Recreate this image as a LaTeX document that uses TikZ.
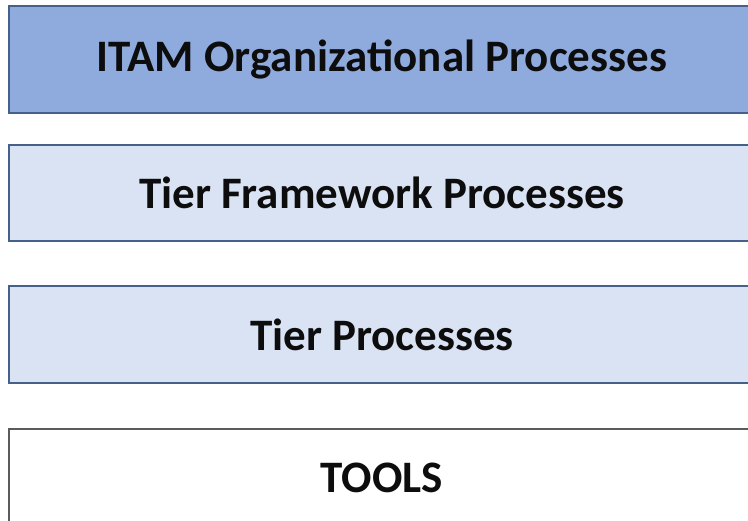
\documentclass[tikz,border=0pt]{standalone}
\usepackage{fontspec}
\setmainfont{Carlito}
\begin{document}
\begin{tikzpicture}[x=1pt,y=1pt]

% Colors
\definecolor{itamblue}{RGB}{143,170,220}
\definecolor{tierblue}{RGB}{218,227,243}
\definecolor{edgeblue}{RGB}{70,96,140}
\definecolor{edgegray}{RGB}{90,90,95}

% Parameters
\def\boxWidth{746}
\def\xCenter{382}

\tikzset{
  layer/.style={draw=edgeblue, line width=1.4pt, minimum width=\boxWidth,
    inner sep=0pt, font=\fontsize{45}{50}\selectfont\bfseries, text=black!95}
}

\useasboundingbox (0,0) rectangle (748,-521);

% Layers
\node[layer, fill=itamblue, minimum height=107] (itam) at (\xCenter,-59.5) {ITAM Organizational Processes};
\node[layer, fill=tierblue, minimum height=96] (framework) at (\xCenter,-193) {Tier Framework Processes};
\node[layer, fill=tierblue, minimum height=97] (tier) at (\xCenter,-334.5) {Tier Processes};
\node[layer, draw=edgegray, fill=white, minimum height=97] (tools) at (\xCenter,-477.5) {TOOLS};
\end{tikzpicture}
\end{document}
